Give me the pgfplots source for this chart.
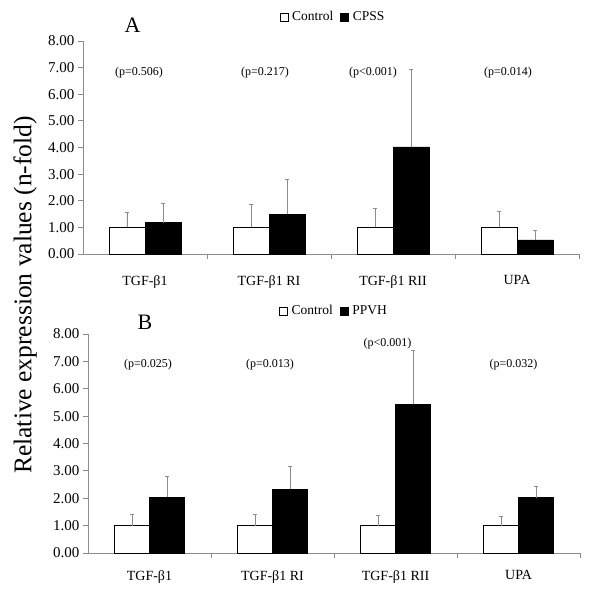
\documentclass[border=0pt]{standalone}
\usepackage{pgfplots}
\pgfplotsset{compat=1.18}
\usepackage{fontspec}
\setmainfont{Liberation Serif}
\definecolor{axgray}{RGB}{140,140,140}
\pgfplotsset{
  panel/.style={
    scale only axis,
    ymin=0, ymax=8, xmin=-0.5, xmax=3.5,
    axis x line*=bottom, axis y line*=left,
    axis line style={axgray, -, line width=0.8pt},
    ytick={0,...,8},
    yticklabels={0.00,1.00,2.00,3.00,4.00,5.00,6.00,7.00,8.00},
    yticklabel style={font=\fontsize{15}{17}\selectfont},
    xtick={0.5,1.5,2.5,3.5}, xticklabels={},
    extra x ticks={0,1,2,3},
    extra x tick labels={TGF-β1, TGF-β1 RI, TGF-β1 RII, UPA},
    tick align=outside, major tick length=5pt,
    tick style={axgray, line width=0.8pt},
    /pgf/number format/assume math mode=true,
    clip=false,
    error bars/y dir=plus, error bars/y explicit,
    error bars/error bar style={axgray, line width=0.8pt},
    error bars/error mark options={axgray, rotate=90, mark size=2pt, line width=0.8pt},
    legend columns=2,
    legend style={draw=none, fill=none, font=\fontsize{13.5}{15}\selectfont, at={(0.5,1)}, anchor=center,
      /tikz/every odd column/.append style={column sep=2pt},
      /tikz/every even column/.append style={column sep=5pt}, inner sep=0pt},
  },
}
\tikzset{
  pnode/.style={font=\fontsize{12}{13}\selectfont, inner sep=0pt},
  letter/.style={font=\fontsize{22}{24}\selectfont, inner sep=0pt},
}
\begin{document}
\begin{tikzpicture}
\useasboundingbox (0,0) rectangle (600pt,592pt);
% Panel A
\begin{axis}[panel, at={(83pt,338pt)}, anchor=south west, width=496pt, height=213pt,
  ybar, bar width=36pt,
  extra x tick style={major tick length=0pt, tick label style={font=\fontsize{14}{16}\selectfont, yshift=-18pt}},
  legend style={yshift=24pt, xshift=2pt},
  legend image code/.code={\draw[#1, draw=black, line width=0.6pt] (0pt,-3.8pt) rectangle (8pt,3.8pt);}]
\addplot[fill=white, draw=black, line width=0.6pt, bar shift=-18pt] coordinates {
  (0,1.00) +- (0,0.58)
  (1,1.00) +- (0,0.88)
  (2,1.00) +- (0,0.73)
  (3,1.00) +- (0,0.60)
};
\addplot[fill=black, draw=black, line width=0.6pt, bar shift=18pt] coordinates {
  (0,1.18) +- (0,0.73)
  (1,1.50) +- (0,1.32)
  (2,4.02) +- (0,2.93)
  (3,0.53) +- (0,0.37)
};
\legend{Control, CPSS}
\node[letter] at (rel axis cs:0.1,1) [yshift=16pt] {A};
\node[pnode] at (axis cs:-0.048,6.8) {(p=0.506)};
\node[pnode] at (axis cs:0.968,6.8) {(p=0.217)};
\node[pnode] at (axis cs:1.839,6.8) {(p<0.001)};
\node[pnode] at (axis cs:2.927,6.8) {(p=0.014)};
\end{axis}
% Panel B
\begin{axis}[panel, at={(88pt,39pt)}, anchor=south west, width=492pt, height=219pt,
  ybar, bar width=35pt,
  extra x tick style={major tick length=0pt, tick label style={font=\fontsize{14}{16}\selectfont, yshift=-14pt}},
  legend style={yshift=23pt},
  legend image code/.code={\draw[#1, draw=black, line width=0.6pt] (0pt,-3.8pt) rectangle (8pt,3.8pt);}]
\addplot[fill=white, draw=black, line width=0.6pt, bar shift=-17.5pt] coordinates {
  (0,1.00) +- (0,0.40)
  (1,1.00) +- (0,0.40)
  (2,1.00) +- (0,0.37)
  (3,1.00) +- (0,0.33)
};
\addplot[fill=black, draw=black, line width=0.6pt, bar shift=17.5pt] coordinates {
  (0,2.04) +- (0,0.76)
  (1,2.32) +- (0,0.85)
  (2,5.44) +- (0,1.96)
  (3,2.02) +- (0,0.41)
};
\legend{Control, PPVH}
\node[letter] at (rel axis cs:0.116,1) [yshift=12pt] {B};
\node[pnode] at (axis cs:-0.012,6.9) {(p=0.025)};
\node[pnode] at (axis cs:0.98,6.9) {(p=0.013)};
\node[pnode] at (axis cs:1.935,7.66) {(p<0.001)};
\node[pnode] at (axis cs:2.96,6.9) {(p=0.032)};
\end{axis}
\node[rotate=90, font=\fontsize{25.5}{28}\selectfont, inner sep=0pt] at (25pt,297pt) {Relative expression values (n-fold)};
\end{tikzpicture}
\end{document}
